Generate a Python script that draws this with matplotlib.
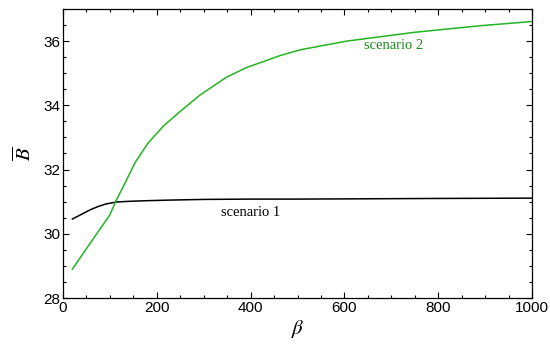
import matplotlib
matplotlib.use("Agg")
import matplotlib.pyplot as plt
from matplotlib.ticker import MultipleLocator

# scenario 1 (black)
beta1 = [20, 40, 57, 75, 92, 114, 140, 178, 230, 300, 400, 500, 650, 800, 1000]
B1 = [30.46, 30.61, 30.74, 30.85, 30.93, 30.99, 31.01, 31.03, 31.05, 31.07, 31.08, 31.08, 31.09, 31.10, 31.11]

# scenario 2 (green)
beta2 = [20, 60, 100, 112, 132, 153, 181, 213, 249, 292, 349, 392, 463, 506, 605, 747, 890, 1000]
B2 = [28.90, 29.75, 30.59, 31.00, 31.57, 32.20, 32.82, 33.34, 33.80, 34.32, 34.88, 35.18, 35.55, 35.73, 36.00, 36.27, 36.48, 36.61]

plt.rcParams['mathtext.fontset'] = 'stix'
fig = plt.figure(figsize=(5.5, 3.47), dpi=100)
ax = fig.add_axes([63/550, 1-298/347, (532-63)/550, (298-9)/347])

ax.plot(beta1, B1, color='black', lw=1.1)
ax.plot(beta2, B2, color='#22b422', lw=1.1)

ax.text(400, 30.65, 'scenario 1', family='Liberation Serif', fontsize=10.5,
        color='black', ha='center', va='center')
ax.text(705, 35.87, 'scenario 2', family='Liberation Serif', fontsize=10.5,
        color='#1a8a1a', ha='center', va='center')

ax.set_xlim(0, 1000)
ax.set_ylim(28, 37)
ax.xaxis.set_major_locator(MultipleLocator(200))
ax.xaxis.set_minor_locator(MultipleLocator(50))
ax.yaxis.set_major_locator(MultipleLocator(2))
ax.yaxis.set_minor_locator(MultipleLocator(0.5))
ax.tick_params(which='both', direction='in', top=True, right=True, width=0.8)
ax.tick_params(which='major', length=4.5, labelsize=11, pad=2)
ax.tick_params(which='minor', length=2.5)
for lab in ax.get_xticklabels() + ax.get_yticklabels():
    lab.set_family('Liberation Sans')
for s in ax.spines.values():
    s.set_linewidth(0.9)

ax.set_xlabel(r'$\beta$', fontsize=15, labelpad=2)
ax.set_ylabel(r'$\overline{B}$', fontsize=15, labelpad=6)

fig.savefig('out.png', dpi=100)
